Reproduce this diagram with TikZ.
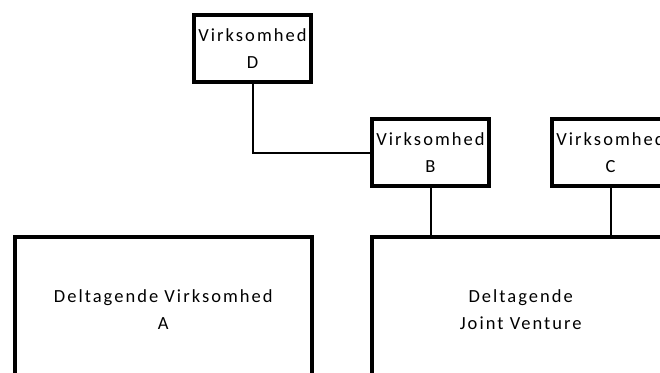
\documentclass[tikz,border=0pt]{standalone}
\usepackage{fontspec}
\setmainfont{Carlito}[LetterSpace=11]
\usetikzlibrary{positioning}

\begin{document}
\begin{tikzpicture}[
        x=1pt, y=1pt,
        company/.style={rectangle, draw, line width=4pt, fill=white, align=center, minimum width=117pt, minimum height=67pt, inner sep=0pt, font=\fontsize{18.5}{27.5}\selectfont},
        partner/.style={company, minimum width=297.5pt, minimum height=146pt},
        link/.style={line width=2pt}
    ]
    \useasboundingbox (0,-372) rectangle (660,0);
    \clip (0,-372) rectangle (660,0);

    \node[partner] (partA) at (163.25,-309.5) {Deltagende Virksomhed\\A};
    \node[partner] (jv) at (520.75,-309.5) {Deltagende\\Joint Venture};
    \node[company] (compD) at (252.5,-48.5) {Virksomhed\\D};
    \node[company] (compB) at (430.5,-152.5) {Virksomhed\\B};
    \node[company] (compC) at (610.5,-152.5) {Virksomhed\\C};

    \draw[link] (compD) |- (compB);
    \draw[link] (compB.south) -- (compB.south |- jv.north);
    \draw[link] (compC.south) -- (compC.south |- jv.north);
\end{tikzpicture}
\end{document}
